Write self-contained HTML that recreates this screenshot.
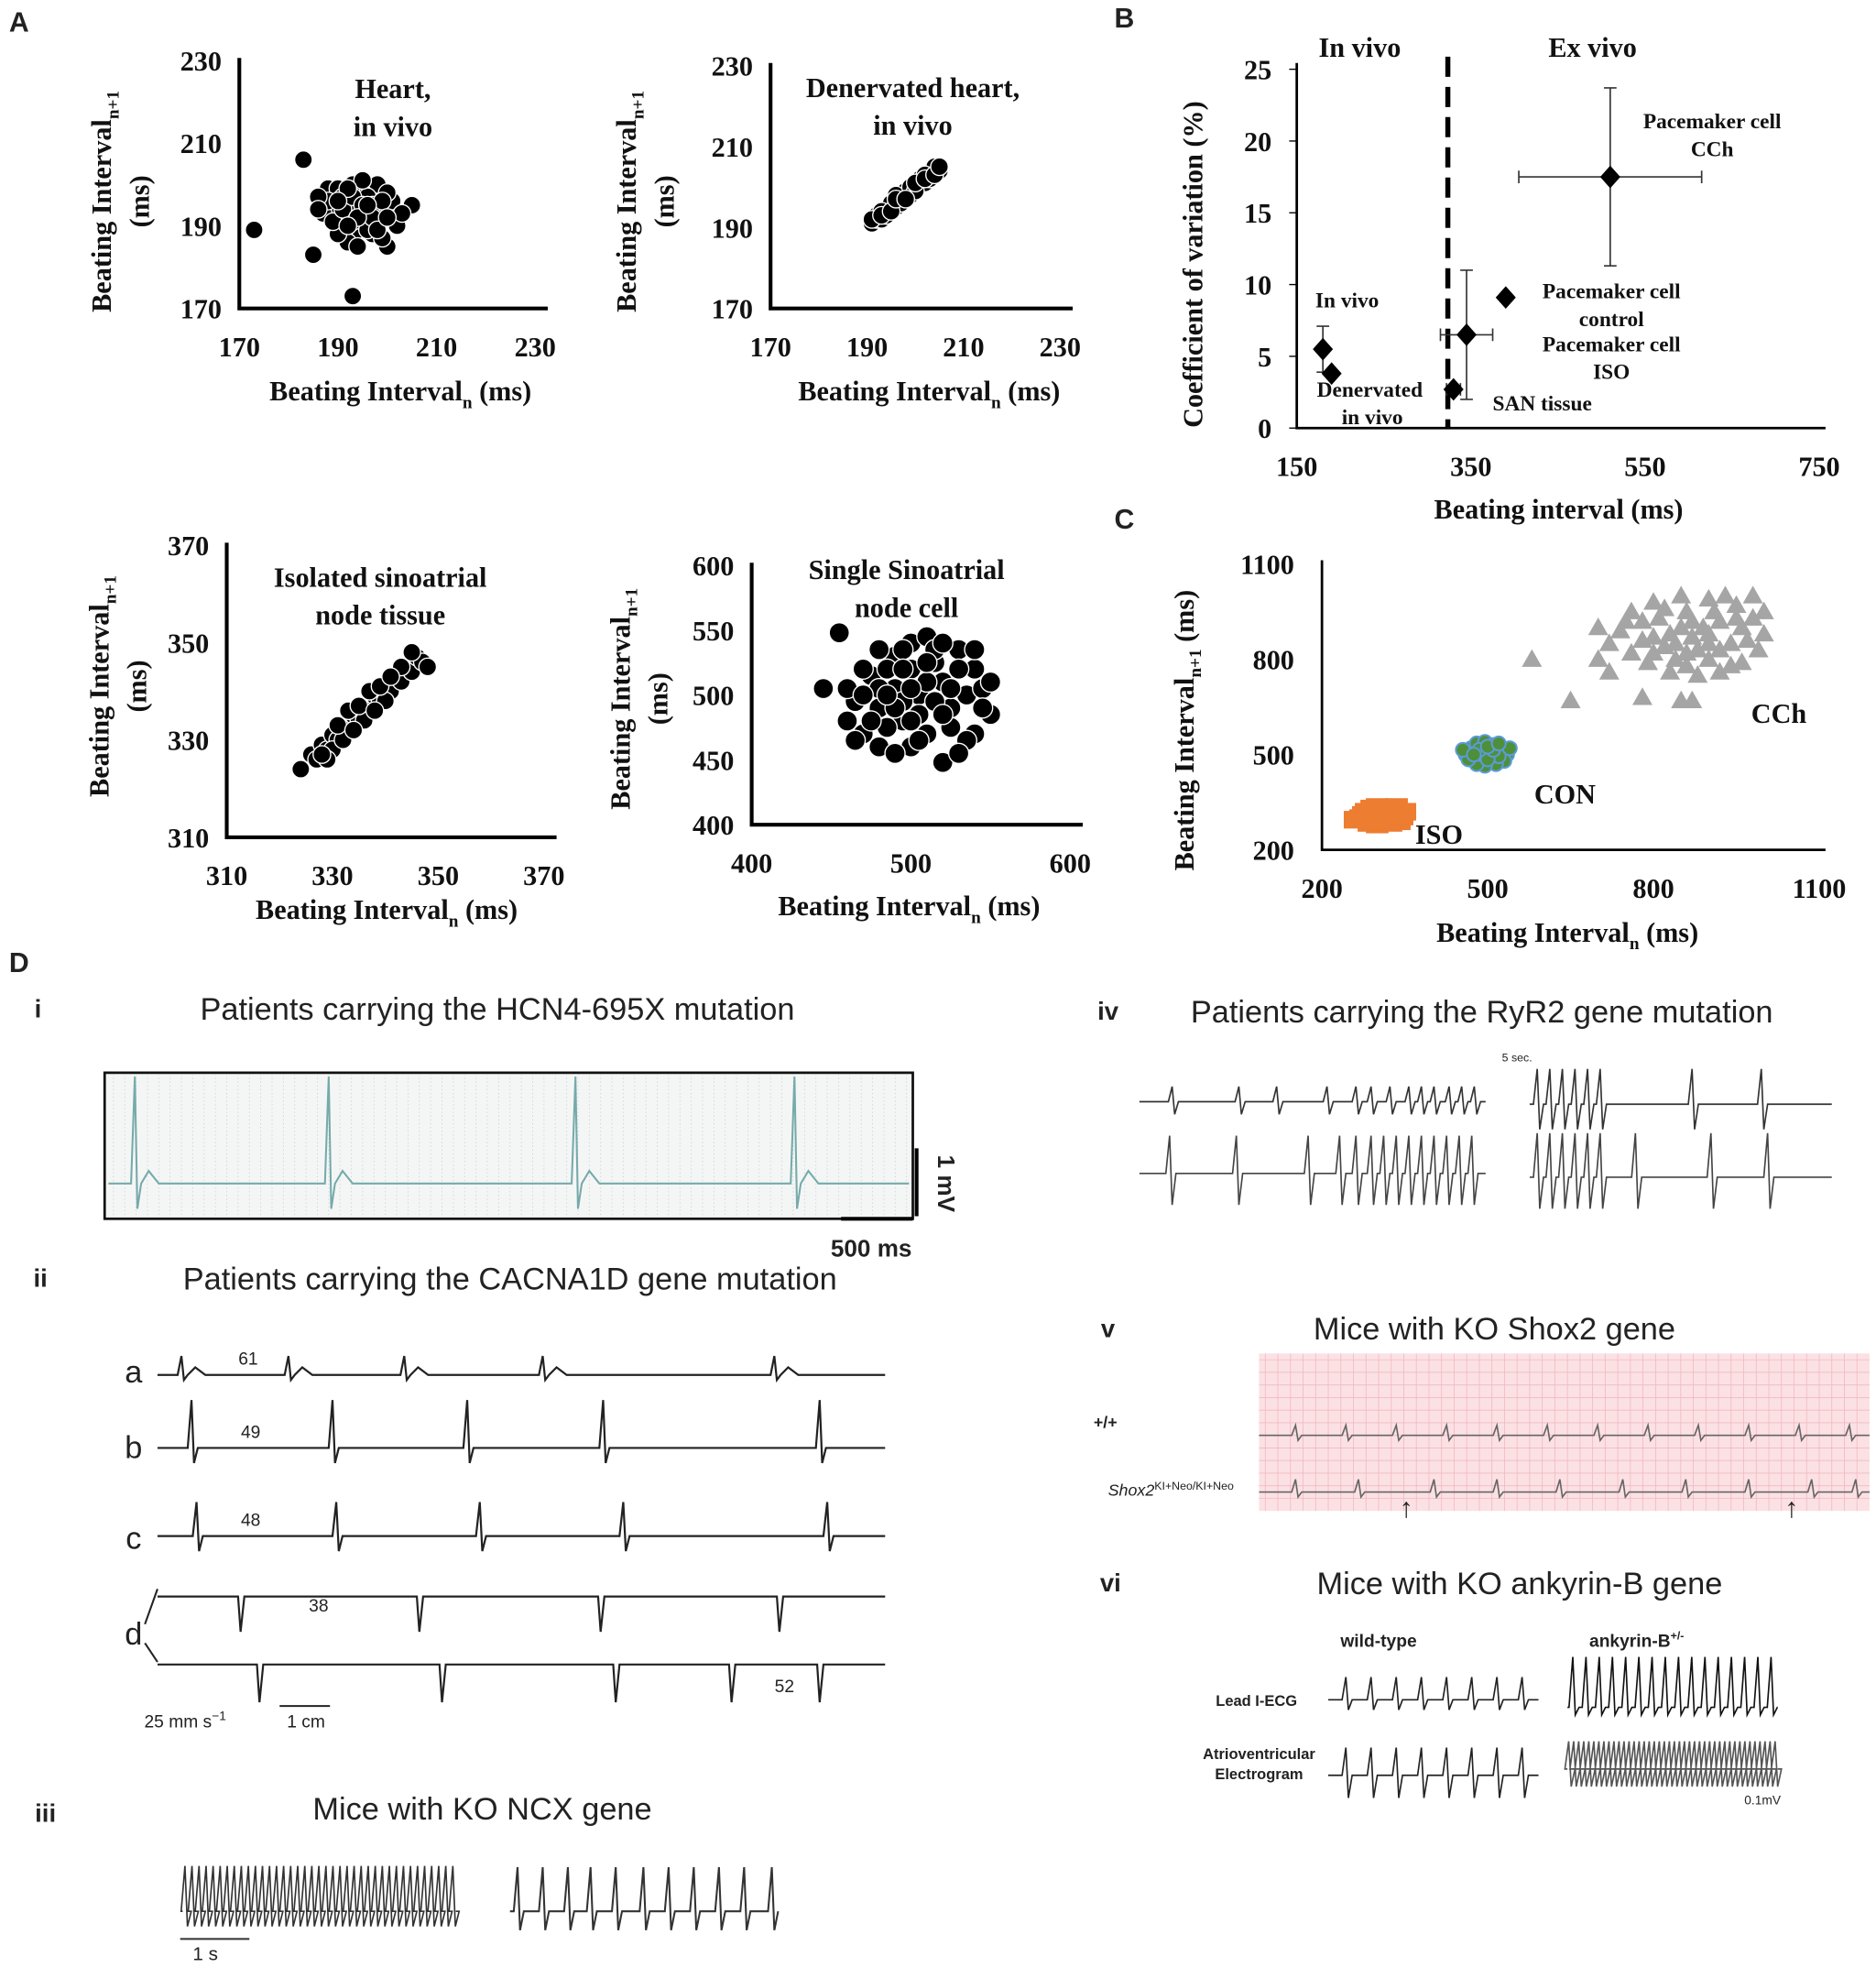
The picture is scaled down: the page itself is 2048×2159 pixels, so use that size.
<!DOCTYPE html>
<html><head><meta charset="utf-8"><style>
html,body{margin:0;padding:0;background:#fff}
svg{display:block}
.s{font-family:"Liberation Serif",serif;font-weight:bold;fill:#111}
.a{font-family:"Liberation Sans",sans-serif;fill:#222}
</style></head><body>
<svg id="fig" width="2048" height="2159" viewBox="0 0 1490 1571" xmlns="http://www.w3.org/2000/svg">
<g id="root"></g>
</svg>
<script>
// ---- data ----
const a1Points=[[183,206],[173,189],[185,183],[193,173],[205,195],[200,185],[198,200],[188,199],[190,192],[192,196],[194,194],[196,192],[191,190],[195,198],[197,188],[189,195],[193,200],[199,194],[187,193],[194,189],[196,197],[192,186],[190,199],[198,191],[201,196],[195,193],[193,191],[191,197],[188,196],[197,195],[202,190],[199,187],[186,197],[195,201],[192,194],[200,198],[194,185],[190,188],[203,193],[196,189],[189,191],[191,194],[193,197],[195,195],[197,192],[199,196],[198,189],[192,199],[186,194],[200,192],[194,192],[196,195],[190,196],[192,190]];
const a2Points=[[191,191],[192,192],[192,193],[193,192],[194,194],[195,195],[195,196],[196,195],[197,197],[198,198],[198,199],[199,198],[200,200],[201,201],[201,202],[202,201],[203,203],[204,204],[204,205],[205,204],[193,194],[196,198],[197,196],[199,200],[200,199],[202,203],[203,202],[191,192],[194,193],[193,193],[195,194],[196,197],[198,197],[200,201],[202,202],[204,203],[205,205]];
const a3Points=[[324,324],[326,327],[327,326],[328,329],[329,328],[330,331],[331,330],[332,333],[333,332],[334,335],[335,334],[336,337],[337,336],[338,339],[339,338],[340,341],[341,340],[342,343],[343,342],[344,345],[345,344],[346,347],[347,346],[348,345],[345,348],[330,328],[332,330],[336,334],[340,338],[333,336],[337,340],[329,326],[331,333],[335,337],[339,341],[343,345],[341,343],[338,336],[334,332],[328,327]];
const a4Points=[[455,548],[445,505],[470,470],[480,460],[520,448],[550,485],[540,520],[500,540],[510,545],[490,530],[475,515],[465,495],[480,490],[495,480],[510,470],[525,475],[535,500],[520,510],[505,500],[490,505],[500,520],[515,525],[530,535],[485,475],[470,520],[460,480],[500,460],[540,470],[525,490],[495,495],[510,510],[480,505],[545,505],[505,485],[490,455],[515,535],[460,505],[470,500],[485,520],[495,535],[520,540],[530,520],[545,490],[535,465],[505,465],[475,480],[500,505],[515,495],[525,505],[490,490],[510,525],[480,535],[465,465],[530,455],[550,510],[520,485],[500,480],[485,500],[540,535],[495,520]];
const bX=[180,190,330,345,390,510];
const bY=[5.5,3.8,2.7,6.5,9.1,17.5];
const bXerr=[0,0,8,30,0,105];
const bYerr=[1.6,0,0,4.5,0,6.2];
const cIso=[[270,300],[280,320],[290,330],[300,335],[310,325],[320,310],[330,300],[340,290],[300,280],[285,285],[295,305],[310,300],[325,285],[275,310],[305,315],[315,290],[335,315],[290,295],[345,305],[300,295],[280,300],[320,330],[335,335],[260,295],[350,320]];
const cCon=[[460,500],[470,520],[480,535],[495,540],[510,530],[525,515],[535,500],[530,480],[515,470],[495,465],[480,470],[465,485],[490,500],[505,505],[520,495],[500,485],[485,515],[510,515],[540,520],[455,515],[475,500],[500,525],[520,535]];
const cCch=[[580,800],[650,670],[780,680],[850,670],[870,670],[700,900],[720,850],[760,950],[800,980],[850,1000],[900,990],[950,970],[980,930],[1000,880],[990,830],[960,790],[920,760],[880,750],[830,760],[790,790],[760,820],[800,870],[850,900],[900,880],[940,850],[880,830],[820,840],[860,950],[920,920],[740,890],[960,900],[780,920],[840,800],[900,800],[700,800],[720,760],[1000,950],[930,1000],[870,870],[810,930],[780,860],[830,880],[870,920],[910,950],[950,930],[970,860],[890,900],[860,820],[920,830],[820,960],[750,920],[980,1000],[940,780],[860,780],[800,820],[900,850],[840,850]];
// ---- helpers ----
const NS="http://www.w3.org/2000/svg";
const root=document.getElementById('root');
function el(tag,attrs,parent,text){const e=document.createElementNS(NS,tag);for(const k in attrs)e.setAttribute(k,attrs[k]);if(text!==undefined)e.textContent=text;(parent||root).appendChild(e);return e;}
function lin(d0,d1,p0,p1){return v=>p0+(v-d0)*(p1-p0)/(d1-d0);}
function txt(x,y,s,cls,size,name,anchor,extra){const t=el('text',Object.assign({x:x,y:y,class:cls,'font-size':size,'text-anchor':anchor||'middle'},extra||{}),root);t.innerHTML=s;return t;}

function scatterPanel(cfg){
  const g=el('g',{});
  
  
  const sx=lin(cfg.xd[0],cfg.xd[1],cfg.xp[0],cfg.xp[1]);
  const sy=lin(cfg.yd[0],cfg.yd[1],cfg.yp[0],cfg.yp[1]);
  const ax=el('path',{d:`M${cfg.xp[0]},${cfg.yp[1]-2}V${cfg.yp[0]}H${cfg.xp[1]+10}`,stroke:'#000','stroke-width':3,fill:'none'},g);
  
  
  cfg.xt.forEach(v=>{const t=el('text',{x:sx(v),y:cfg.yp[0]+38,class:'s','font-size':22,'text-anchor':'middle'},g,String(v));});
  cfg.yt.forEach(v=>{const t=el('text',{x:cfg.xp[0]-14,y:sy(v)+8,class:'s','font-size':22,'text-anchor':'end'},g,String(v));});
  cfg.pts.forEach(p=>{const c=el('circle',{cx:sx(p[0]),cy:sy(p[1]),r:cfg.r||5.5,fill:'#000',stroke:cfg.edge||'none','stroke-width':1},g);});
  return g;
}
// ---- panel labels ----
txt(15,25,'A','a',22,'panel-label-a','middle',{'font-weight':'bold'});
txt(893,22,'B','a',22,'panel-label-b','middle',{'font-weight':'bold'});
txt(893,420,'C','a',22,'panel-label-c','middle',{'font-weight':'bold'});
txt(15,772,'D','a',22,'panel-label-d','middle',{'font-weight':'bold'});

// A1
scatterPanel({name:'scatter-heart-in-vivo',xd:[170,230],xp:[190,425],yd:[170,230],yp:[245,48],xt:[170,190,210,230],yt:[170,190,210,230],pts:a1Points,r:7,edge:'#fff'});
txt(312,78,'Heart,','s',22,'title-heart');txt(312,108,'in vivo','s',22,'title-heart-2');
txt(318,318,'Beating Interval<tspan font-size="14" dy="6">n</tspan><tspan dy="-6"> (ms)</tspan>','s',22,'x-axis-title-a1');
txt(88,160,'Beating Interval<tspan font-size="14" dy="6">n+1</tspan>','s',22,'y-axis-title-a1','middle',{transform:'rotate(-90 88 160)'});
txt(118,160,'(ms)','s',22,'y-axis-unit-a1','middle',{transform:'rotate(-90 118 160)'});
// A2
scatterPanel({name:'scatter-denervated',xd:[170,230],xp:[612,842],yd:[170,230],yp:[245,52],xt:[170,190,210,230],yt:[170,190,210,230],pts:a2Points,edge:'#fff',r:7});
txt(725,77,'Denervated heart,','s',22,'title-denervated');txt(725,107,'in vivo','s',22,'title-denervated-2');
txt(738,318,'Beating Interval<tspan font-size="14" dy="6">n</tspan><tspan dy="-6"> (ms)</tspan>','s',22,'x-axis-title-a2');
txt(505,160,'Beating Interval<tspan font-size="14" dy="6">n+1</tspan>','s',22,'y-axis-title-a2','middle',{transform:'rotate(-90 505 160)'});
txt(535,160,'(ms)','s',22,'y-axis-unit-a2','middle',{transform:'rotate(-90 535 160)'});
// A3
scatterPanel({name:'scatter-san-tissue',xd:[310,370],xp:[180,432],yd:[310,370],yp:[665,433],xt:[310,330,350,370],yt:[310,330,350,370],pts:a3Points,edge:'#fff',r:7});
txt(302,466,'Isolated sinoatrial','s',22,'title-san');txt(302,496,'node tissue','s',22,'title-san-2');
txt(307,730,'Beating Interval<tspan font-size="14" dy="6">n</tspan><tspan dy="-6"> (ms)</tspan>','s',22,'x-axis-title-a3');
txt(86,545,'Beating Interval<tspan font-size="14" dy="6">n+1</tspan>','s',22,'y-axis-title-a3','middle',{transform:'rotate(-90 86 545)'});
txt(116,545,'(ms)','s',22,'y-axis-unit-a3','middle',{transform:'rotate(-90 116 545)'});
// A4
scatterPanel({name:'scatter-san-cell',xd:[400,600],xp:[597,850],yd:[400,600],yp:[655,449],xt:[400,500,600],yt:[400,450,500,550,600],pts:a4Points,edge:'#fff',r:8});
txt(720,460,'Single Sinoatrial','s',22,'title-cell');txt(720,490,'node cell','s',22,'title-cell-2');
txt(722,727,'Beating Interval<tspan font-size="14" dy="6">n</tspan><tspan dy="-6"> (ms)</tspan>','s',22,'x-axis-title-a4');
txt(500,555,'Beating Interval<tspan font-size="14" dy="6">n+1</tspan>','s',22,'y-axis-title-a4','middle',{transform:'rotate(-90 500 555)'});
txt(530,555,'(ms)','s',22,'y-axis-unit-a4','middle',{transform:'rotate(-90 530 555)'});

// B
(function(){
  const sx=lin(150,750,1030,1445), sy=lin(0,25,340,55);
  const g=el('g',{});
  el('path',{d:`M1030,50V340H1450`,stroke:'#000','stroke-width':2,fill:'none'},g);
  [0,5,10,15,20,25].forEach(v=>{el('line',{x1:1024,x2:1030,y1:sy(v),y2:sy(v),stroke:'#000'},g);const t=el('text',{x:1010,y:sy(v)+8,class:'s','font-size':22,'text-anchor':'end'},g,String(v));});
  [150,350,550,750].forEach(v=>{const t=el('text',{x:sx(v),y:378,class:'s','font-size':22,'text-anchor':'middle'},g,String(v));});
  const dl=el('line',{x1:1150,x2:1150,y1:45,y2:340,stroke:'#000','stroke-width':4,'stroke-dasharray':'16,8'},g);
  
  bX.forEach((x,i)=>{const cx=sx(x),cy=sy(bY[i]);
    if(bXerr[i]){const dx=sx(x+bXerr[i])-cx;el('path',{d:`M${cx-dx},${cy}H${cx+dx}M${cx-dx},${cy-5}v10M${cx+dx},${cy-5}v10`,stroke:'#333','stroke-width':1.2,fill:'none'},g);}
    if(bYerr[i]){const dy=cy-sy(bY[i]+bYerr[i]);el('path',{d:`M${cx},${cy-dy}V${cy+dy}M${cx-5},${cy-dy}h10M${cx-5},${cy+dy}h10`,stroke:'#333','stroke-width':1.2,fill:'none'},g);}
    const m=el('path',{d:`M${cx},${cy-9}L${cx+8},${cy}L${cx},${cy+9}L${cx-8},${cy}Z`,fill:'#000'},g);});
  txt(1080,45,'In vivo','s',22,'label-in-vivo');txt(1265,45,'Ex vivo','s',22,'label-ex-vivo');
  txt(1360,102,'Pacemaker cell','s',17,'lbl-pm-cch');txt(1360,124,'CCh','s',17,'lbl-pm-cch2');
  txt(1280,237,'Pacemaker cell','s',17,'lbl-pm-ctrl');txt(1280,259,'control','s',17,'lbl-pm-ctrl2');
  txt(1280,279,'Pacemaker cell','s',17,'lbl-pm-iso');txt(1280,301,'ISO','s',17,'lbl-pm-iso2');
  txt(1225,326,'SAN tissue','s',17,'lbl-san');
  txt(1070,244,'In vivo','s',17,'lbl-invivo');txt(1088,315,'Denervated','s',17,'lbl-den');txt(1090,337,'in vivo','s',17,'lbl-den2');
  txt(1238,412,'Beating interval (ms)','s',22,'x-axis-title-b');
  txt(955,210,'Coefficient of variation (%)','s',22,'y-axis-title-b','middle',{transform:'rotate(-90 955 210)'});
})();

// C
(function(){
  const sx=lin(200,1100,1050,1445), sy=lin(200,1100,675,448);
  const g=el('g',{});
  el('path',{d:`M1050,445V675H1450`,stroke:'#000','stroke-width':2,fill:'none'},g);
  [200,500,800,1100].forEach(v=>{const t=el('text',{x:sx(v),y:713,class:'s','font-size':22,'text-anchor':'middle'},g,String(v));
    const u=el('text',{x:1028,y:sy(v)+8,class:'s','font-size':22,'text-anchor':'end'},g,String(v));});
  cIso.forEach(p=>{const r=el('rect',{x:sx(p[0])-9,y:sy(p[1])-7,width:18,height:14,fill:'#ed7d31'},g);});
  cCon.forEach(p=>{const c=el('circle',{cx:sx(p[0]),cy:sy(p[1]),r:5.5,fill:'#4e8f3a',stroke:'#5b9bd5','stroke-width':1.5},g);});
  cCch.forEach(p=>{const x=sx(p[0]),y=sy(p[1]);const t=el('path',{d:`M${x},${y-8}L${x+8},${y+6}L${x-8},${y+6}Z`,fill:'#a5a5a5'},g);});
  txt(1413,574,'CCh','s',22,'label-cch');txt(1243,638,'CON','s',22,'label-con');txt(1143,670,'ISO','s',22,'label-iso');
  txt(1245,748,'Beating Interval<tspan font-size="14" dy="6">n</tspan><tspan dy="-6"> (ms)</tspan>','s',22,'x-axis-title-c');
  txt(948,580,'Beating Interval<tspan font-size="14" dy="6">n+1</tspan><tspan dy="-6"> (ms)</tspan>','s',22,'y-axis-title-c','middle',{transform:'rotate(-90 948 580)'});
})();

// ---- D: ECG traces ----
function trace(name,x0,x1,y,spikes,up,down,color,w,noise){
  let d=`M${x0},${y}`;
  spikes.forEach(s=>{d+=`L${s-4},${y}L${s-1},${y-up}L${s+1},${y+down}L${s+4},${y}`;if(noise)d+=`l6,${-noise}l8,${noise}`;});
  d+=`L${x1},${y}`;
  const p=el('path',{d:d,stroke:color||'#333','stroke-width':w||1.5,fill:'none'});
  
}
function dense(name,x0,x1,y,step,up,down,color){const s=[];for(let x=x0+step/2;x<x1;x+=step)s.push(x);trace(name,x0,x1,y,s,up,down,color,1.2);}
// headings
txt(30,808,'i','a',20,'sub-i','middle',{'font-weight':'bold'});
txt(395,810,'Patients carrying the HCN4-695X mutation','a',25,'title-d-i');
txt(32,1022,'ii','a',20,'sub-ii','middle',{'font-weight':'bold'});
txt(405,1024,'Patients carrying the CACNA1D gene mutation','a',25,'title-d-ii');
txt(36,1447,'iii','a',20,'sub-iii','middle',{'font-weight':'bold'});
txt(383,1445,'Mice with KO NCX gene','a',25,'title-d-iii');
txt(880,810,'iv','a',20,'sub-iv','middle',{'font-weight':'bold'});
txt(1177,812,'Patients carrying the RyR2 gene mutation','a',25,'title-d-iv');
txt(880,1062,'v','a',20,'sub-v','middle',{'font-weight':'bold'});
txt(1187,1064,'Mice with KO Shox2 gene','a',25,'title-d-v');
txt(882,1264,'vi','a',20,'sub-vi','middle',{'font-weight':'bold'});
txt(1207,1266,'Mice with KO ankyrin-B gene','a',25,'title-d-vi');
// i
const gi=el('rect',{x:83,y:852,width:642,height:116,fill:'#f4f6f6',stroke:'#111','stroke-width':2});
for(let x=90;x<725;x+=9)el('line',{x1:x,x2:x,y1:853,y2:967,stroke:'#c9cfcf','stroke-width':0.6,'stroke-dasharray':'1,2'});
trace('ecg-trace-i',86,722,940,[108,262,458,632],85,20,'#7aa',1.5,10);
el('path',{d:'M668,968H725M728,912V966',stroke:'#000','stroke-width':3,fill:'none'});
txt(692,998,'500 ms','a',19,'scale-500ms','middle',{'font-weight':'bold'});
txt(745,940,'1 mV','a',19,'scale-1mv','middle',{'font-weight':'bold',transform:'rotate(90 745 940)'});
// ii
[['a',1092,[145,230,322,432,616],15,4,'61',197],['b',1150,[153,265,372,480,652],38,12,'49',199],['c',1220,[157,268,382,496,658],27,12,'48',199],['d',1268,[190,332,476,618],0,28,'38',253],['d2',1322,[205,350,488,580,650],0,30,'52',623]].forEach(r=>{
  trace('ecg-ii-'+r[0],125,703,r[1],r[2],r[3],r[4],'#222',1.6,r[0]=='a'?6:0);
  txt(r[6],r[1]-8+(r[0]=='d2'?30:0)+(r[0]=='d'?20:0),r[5],'a',14,'rate-'+r[0]);
});
txt(106,1098,'a','a',25,'row-a');txt(106,1158,'b','a',25,'row-b');txt(106,1230,'c','a',25,'row-c');txt(106,1306,'d','a',25,'row-d');
el('path',{d:'M125,1262L115,1290M115,1305L125,1320',stroke:'#222','stroke-width':1.5,fill:'none'});
txt(147,1372,'25 mm s<tspan font-size="10" dy="-6">−1</tspan>','a',14,'speed-label');
el('path',{d:'M222,1355h40',stroke:'#222','stroke-width':1.5});txt(243,1372,'1 cm','a',14,'scale-1cm');
// iii
dense('ecg-iii-ko',145,362,1518,5.6,36,12,'#333');
trace('ecg-iii-wt',405,618,1518,[412,432,452,470,490,512,532,552,572,592,614],35,15,'#333',1.5);
el('path',{d:'M143,1540h55',stroke:'#333','stroke-width':1.5});txt(163,1557,'1 s','a',15,'scale-1s');
// iv
trace('ecg-iv-top-l',905,1180,875,[932,985,1015,1055,1078,1090,1105,1120,1130,1140,1152,1162,1172],12,10,'#333',1.2);
trace('ecg-iv-top-r',1215,1455,877,[1222,1232,1242,1252,1262,1272,1345,1400],28,20,'#333',1.2);
trace('ecg-iv-bot-l',905,1180,932,[930,983,1040,1065,1078,1090,1100,1110,1120,1130,1140,1150,1160,1170],30,25,'#444',1.2);
trace('ecg-iv-bot-r',1215,1455,935,[1222,1232,1242,1252,1262,1272,1300,1360,1405],35,25,'#444',1.2);
txt(1205,843,'5 sec.','a',9,'scale-5sec');
// v
const pv=el('rect',{x:1000,y:1075,width:485,height:125,fill:'#fbe1e4'});
for(let x=1005;x<1485;x+=10)el('line',{x1:x,x2:x,y1:1075,y2:1200,stroke:'#f2b9c0','stroke-width':0.6});
for(let y=1080;y<1200;y+=10)el('line',{x1:1000,x2:1485,y1:y,y2:y,stroke:'#f2b9c0','stroke-width':0.6});
trace('ecg-v-wt',1000,1485,1140,[1030,1070,1110,1150,1190,1230,1270,1310,1350,1390,1430,1470],8,4,'#666',1.2);
trace('ecg-v-ko',1000,1485,1185,[1030,1080,1140,1190,1240,1290,1340,1390,1440,1475],10,4,'#666',1.2);
txt(878,1134,'+/+','a',13,'label-wt-v','middle',{'font-weight':'bold'});
txt(930,1188,'<tspan font-style="italic">Shox2</tspan><tspan font-size="9" dy="-5">KI+Neo/KI+Neo</tspan>','a',13,'label-ko-v');
txt(1117,1205,'↑','a',22,'arrow-v1');txt(1423,1205,'↑','a',22,'arrow-v2');
// vi
txt(1095,1308,'wild-type','a',14,'label-wt-vi','middle',{'font-weight':'bold'});
txt(1300,1308,'ankyrin-B<tspan font-size="9" dy="-6">+/-</tspan>','a',14,'label-ank','middle',{'font-weight':'bold'});
txt(998,1355,'Lead I-ECG','a',12,'label-lead','middle',{'font-weight':'bold'});
txt(1000,1397,'Atrioventricular','a',12,'label-av','middle',{'font-weight':'bold'});
txt(1000,1413,'Electrogram','a',12,'label-av2','middle',{'font-weight':'bold'});
trace('ecg-vi-wt-lead',1055,1222,1350,[1070,1090,1110,1130,1150,1170,1190,1210],18,8,'#222',1.2);
trace('ecg-vi-wt-av',1055,1222,1410,[1070,1090,1110,1130,1150,1170,1190,1210],22,18,'#222',1.2);
dense('ecg-vi-ank-lead',1245,1412,1356,10.5,40,6,'#111');
dense('ecg-vi-ank-av',1245,1412,1405,4,22,14,'#555');
txt(1400,1433,'0.1mV','a',10,'scale-01mv');
</script>
</body></html>
